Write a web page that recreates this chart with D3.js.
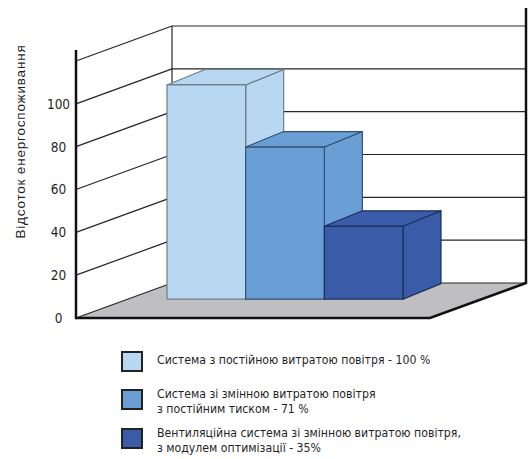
<!DOCTYPE html>
<html>
<head>
<meta charset="utf-8">
<script src="https://cdn.jsdelivr.net/npm/d3@7"></script>
<style>
  html, body { margin: 0; padding: 0; background: #fff; }
  svg { display: block; }
  text { fill: #1f1f1f; }
</style>
</head>
<body>
<svg id="chart" width="528" height="459"></svg>
<script>
// ---- data ----
const categories = ["const", "varPressure", "optimized"];
const values = [100, 71, 34];
const colors = ["#b8d8f1", "#6a9fd5", "#3a5ca8"];
const strokes = ["#6e7c88", "#34506f", "#1d2f5c"];
const yTicks = [0, 20, 40, 60, 80, 100];
const gridValues = [0, 20, 40, 60, 80, 100, 120];
const yTitle = "Відсоток енергоспоживання";
const legendLines = [
  ["Система з постійною витратою повітря - 100 %"],
  ["Система зі змінною витратою повітря", "з постійним тиском - 71 %"],
  ["Вентиляційна система зі змінною витратою повітря,", "з модулем оптимізації - 35%"]
];

// ---- layout ----
const svg = d3.select("#chart");
const FX = 76;              // front-left axis x
const DX = 96, DY = -35;    // full floor depth vector
const RIGHT = 526;          // right wall x
const BZ = 0.54;            // depth fraction of bar front faces
const BDX = 38, BDY = -15.5; // bar depth vector

const y = d3.scaleLinear().domain([0, 120]).range([318, 61]);
const x = d3.scaleBand().domain(categories).range([167, 403]).padding(0);

const narrow = "'DejaVu Sans Condensed', 'Liberation Sans Narrow', sans-serif";

// floor
const floorPts = [[FX, y(0)], [RIGHT - DX, y(0)], [RIGHT, y(0) + DY], [FX + DX, y(0) + DY]];
svg.append("polygon")
  .attr("points", floorPts.map(p => p.join(",")).join(" "))
  .attr("fill", "#bfbfc1");

// grid: left wall diagonals + back wall horizontals
const grid = svg.append("g").attr("stroke", "#262626").attr("stroke-width", 1.2).attr("fill", "none");
gridValues.forEach(v => {
  grid.append("line")
    .attr("x1", FX).attr("y1", y(v))
    .attr("x2", FX + DX).attr("y2", y(v) + DY);
  grid.append("line")
    .attr("x1", FX + DX).attr("y1", y(v) + DY)
    .attr("x2", RIGHT).attr("y2", y(v) + DY);
});
// back-left vertical edge
grid.append("line")
  .attr("x1", FX + DX).attr("y1", y(120) + DY)
  .attr("x2", FX + DX).attr("y2", y(0) + DY);

// right wall vertical line
svg.append("line")
  .attr("x1", RIGHT).attr("y1", 8)
  .attr("x2", RIGHT).attr("y2", y(0) + DY + 1)
  .attr("stroke", "#111").attr("stroke-width", 2.5);

// bars
const base = y(0) + BZ * DY;
categories.forEach((c, i) => {
  const v = values[i];
  const x0 = x(c), x1 = x0 + x.bandwidth();
  const yt = y(v) + BZ * DY;
  const g = svg.append("g")
    .attr("fill", colors[i])
    .attr("stroke", strokes[i])
    .attr("stroke-width", 1.2)
    .attr("stroke-linejoin", "round");
  // side face
  g.append("polygon").attr("points", [
    [x1, yt], [x1 + BDX, yt + BDY], [x1 + BDX, base + BDY], [x1, base]
  ].map(p => p.join(",")).join(" "));
  // top face
  g.append("polygon").attr("points", [
    [x0, yt], [x0 + BDX, yt + BDY], [x1 + BDX, yt + BDY], [x1, yt]
  ].map(p => p.join(",")).join(" "));
  // front face
  g.append("rect")
    .attr("x", x0).attr("y", yt)
    .attr("width", x1 - x0).attr("height", base - yt);
});

// floor front and right edges
svg.append("polyline")
  .attr("points", [[FX, y(0)], [RIGHT - DX, y(0)], [RIGHT, y(0) + DY]].map(p => p.join(",")).join(" "))
  .attr("fill", "none").attr("stroke", "#111").attr("stroke-width", 2.5);

// front axis
svg.append("line")
  .attr("x1", FX).attr("y1", 50)
  .attr("x2", FX).attr("y2", y(0) + 1.2)
  .attr("stroke", "#111").attr("stroke-width", 2.5);

// tick labels
svg.append("g").selectAll("text").data(yTicks).join("text")
  .attr("x", 58.5).attr("y", d => y(d))
  .attr("dy", "0.36em")
  .attr("text-anchor", "middle")
  .attr("font-family", narrow)
  .attr("font-size", 13.5)
  .text(d => d);

// y title
svg.append("text")
  .attr("transform", "translate(25,141.5) rotate(-90)")
  .attr("text-anchor", "middle")
  .attr("font-family", "'Liberation Sans', Arial, sans-serif")
  .attr("font-size", 13.5)
  .attr("letter-spacing", 0.8)
  .text(yTitle);

// legend
const legendY = [352, 390, 429];
const lg = svg.append("g");
legendLines.forEach((lines, i) => {
  lg.append("rect")
    .attr("x", 122).attr("y", legendY[i])
    .attr("width", 20).attr("height", 19)
    .attr("fill", colors[i])
    .attr("stroke", "#222").attr("stroke-width", 2);
  const t = lg.append("text")
    .attr("x", 157)
    .attr("y", lines.length === 1 ? legendY[i] + 12 : legendY[i] + 8)
    .attr("font-family", narrow)
    .attr("font-size", 12.2);
  lines.forEach((l, j) => {
    t.append("tspan").attr("x", 157).attr("dy", j === 0 ? 0 : 14.5).text(l);
  });
});
</script>
</body>
</html>
